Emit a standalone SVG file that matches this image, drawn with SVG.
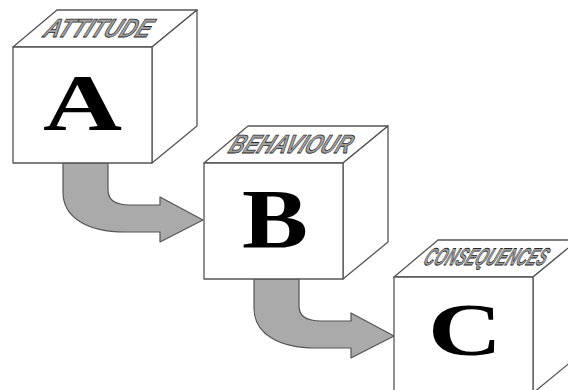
<svg xmlns="http://www.w3.org/2000/svg" width="568" height="390" viewBox="0 0 568 390">
<style>
.face{fill:#fff;stroke:#555;stroke-width:1.3;stroke-linejoin:round}
.top{font-family:"Liberation Sans",Arial,sans-serif;font-weight:bold;font-style:italic;fill:#a0a0a0;stroke:#2a2a2a;stroke-width:0.8}
.big{font-family:"Liberation Serif","Times New Roman",serif;font-weight:bold;fill:#000}
.arrow{fill:#aaa;stroke:#555;stroke-width:1.2;stroke-linejoin:round}
</style>
<defs>
<path id="arr" class="arrow" d="M63,163 V192 C63,218 88,232 125,232 L160,232 L160,242 L203,220 L160,197 L160,205 L130,205 C116,205 108,200 108,190 V163 Z"/>
</defs>
<rect width="568" height="390" fill="#fff"/>
<g id="connectors">
<use href="#arr"/>
<use href="#arr" transform="translate(191,116)"/>
</g>
<g id="cube-a">
<polygon class="face" points="13,47 57,10 197,10 152,47"/>
<polygon class="face" points="152,47 197,10 197,126 152,163"/>
<rect class="face" x="13" y="47" width="139" height="116"/>
<text class="top" font-size="26" textLength="106" lengthAdjust="spacingAndGlyphs" transform="translate(42,37) skewX(-25)">ATTITUDE</text>
<text class="big" x="43" y="130" font-size="80" textLength="79" lengthAdjust="spacingAndGlyphs">A</text>
</g>
<g id="cube-b">
<polygon class="face" points="204,163 248,126 388,126 343,163"/>
<polygon class="face" points="343,163 388,126 388,242 343,279"/>
<rect class="face" x="204" y="163" width="139" height="116"/>
<text class="top" font-size="26" textLength="121" lengthAdjust="spacingAndGlyphs" transform="translate(227,153) skewX(-25)">BEHAVIOUR</text>
<text class="big" x="242" y="248" font-size="85" textLength="66" lengthAdjust="spacingAndGlyphs">B</text>
</g>
<g id="cube-c">
<polygon class="face" points="394,277 438,240 578,240 533,277"/>
<polygon class="face" points="533,277 578,240 578,356 533,393"/>
<rect class="face" x="394" y="277" width="139" height="116"/>
<text class="top" font-size="24" textLength="122" lengthAdjust="spacingAndGlyphs" transform="translate(422,265) skewX(-25)">CONSEQUENCES</text>
<text class="big" x="428" y="355" font-size="74" textLength="74" lengthAdjust="spacingAndGlyphs">C</text>
</g>
</svg>
